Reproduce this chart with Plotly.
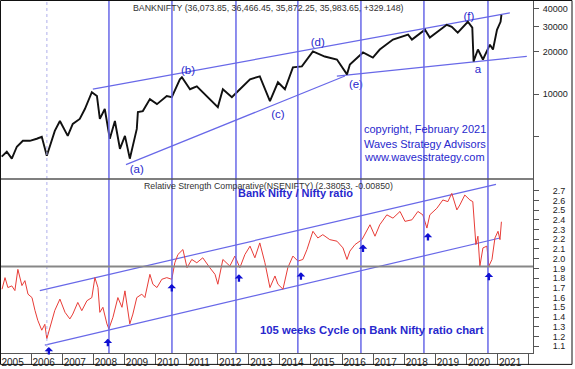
import math
import plotly.graph_objects as go

# ---------------- data ----------------
price_dates = ["2005-01-20","2005-03-21","2005-05-19","2005-07-17","2005-09-26","2005-12-17",
               "2006-03-08","2006-05-06","2006-07-04","2006-10-06","2006-12-05","2007-03-07",
               "2007-05-05","2007-07-26","2007-09-24","2007-12-15","2008-02-13","2008-03-18",
               "2008-05-15","2008-07-13","2008-09-11","2008-11-09","2009-01-07","2009-03-05",
               "2009-05-26","2009-06-08","2009-08-05","2009-10-27","2010-01-18","2010-05-13",
               "2010-07-11","2010-10-14","2010-11-07","2011-02-10","2011-05-01","2011-08-27",
               "2012-01-03","2012-03-02","2012-06-16","2012-09-18","2013-01-15","2013-05-10",
               "2013-09-06","2013-12-09","2014-03-01","2014-06-03","2014-09-16","2015-01-24",
               "2015-06-12","2015-11-02","2016-02-28","2016-04-02","2016-09-03","2016-12-28",
               "2017-03-19","2017-08-21","2018-02-15","2018-04-01","2018-09-01","2018-10-28",
               "2019-05-15","2019-07-13","2019-09-21","2020-01-18","2020-03-10","2020-03-25",
               "2020-05-15","2020-07-13","2020-10-03","2020-11-08","2020-12-25","2021-02-05",
               "2021-02-15"]
price_values = [3630, 3930, 3510, 4260, 4690, 4690,
                4850, 5000, 3680, 5510, 6470, 5080,
                6170, 6690, 7860, 10330, 9700, 6690,
                7860, 4850, 6470, 4120, 5080, 3510,
                5690, 7480, 7600, 9230, 8510, 9700,
                9530, 12730, 13150, 10840, 11370, 9700,
                8110, 10840, 9530, 10840, 12730, 13370,
                8930, 12130, 10840, 15450, 15700, 20000,
                18430, 17560, 13790, 16200, 19670, 18140,
                20640, 24260, 26300, 24260, 28460, 25050,
                30860, 29850, 27170, 32390, 29440, 17020,
                20640, 17560, 22330, 20640, 28460, 32390,
                36260]

ratio_dates = ["2005-01-24","2005-02-28","2005-04-03","2005-05-19","2005-06-24","2005-07-29",
               "2005-09-15","2005-10-20","2005-11-25","2006-01-11","2006-02-15","2006-03-20",
               "2006-05-06","2006-06-11","2006-07-04","2006-08-09","2006-10-06","2006-12-05",
               "2007-02-03","2007-04-01","2007-05-05","2007-07-03","2007-08-19","2007-10-18",
               "2007-12-15","2008-01-20","2008-02-25","2008-03-18","2008-04-23","2008-06-09",
               "2008-07-02","2008-08-19","2008-10-16","2008-12-03","2009-01-07","2009-03-05",
               "2009-04-10","2009-05-26","2009-07-24","2009-08-29","2009-10-27","2009-12-01",
               "2010-01-18","2010-03-16","2010-05-13","2010-07-11","2010-08-16","2010-09-21",
               "2010-11-19","2011-01-06","2011-03-03","2011-05-01","2011-07-10","2011-10-01",
               "2011-12-01","2012-01-03","2012-03-02","2012-05-23","2012-07-21","2012-09-18",
               "2012-11-16","2013-01-15","2013-03-13","2013-05-10","2013-07-09","2013-09-06",
               "2013-11-04","2013-12-09","2014-02-06","2014-04-04","2014-06-03","2014-08-01",
               "2014-09-28","2014-11-15","2015-01-24","2015-03-23","2015-05-20","2015-08-10",
               "2015-11-02","2016-01-12","2016-02-28","2016-04-02","2016-06-01","2016-08-22",
               "2016-10-19","2016-11-24","2017-01-22","2017-03-19","2017-06-10","2017-08-21",
               "2017-11-12","2018-01-09","2018-04-01","2018-06-10","2018-08-07","2018-09-24",
               "2018-10-28","2019-01-19","2019-03-30","2019-05-28","2019-07-13","2019-09-11",
               "2019-10-16","2019-12-13","2020-02-11","2020-03-16","2020-04-21","2020-05-15",
               "2020-06-07","2020-07-13","2020-08-28","2020-09-21","2020-10-27","2020-12-01",
               "2021-01-06","2021-01-29","2021-02-15"]
ratio_values = [1.686, 1.805, 1.703, 1.720, 1.672, 1.890,
                1.723, 1.774, 1.635, 1.600, 1.468, 1.366,
                1.264, 1.325, 1.176, 1.295, 1.468, 1.584,
                1.448, 1.380, 1.430, 1.550, 1.465, 1.567,
                1.600, 1.805, 1.703, 1.448, 1.500, 1.329,
                1.278, 1.397, 1.600, 1.500, 1.669, 1.329,
                1.430, 1.600, 1.635, 1.600, 1.839, 1.737,
                1.703, 1.788, 1.805, 1.788, 1.958, 2.043,
                2.094, 1.907, 1.992, 1.958, 2.009, 1.907,
                1.839, 1.737, 1.992, 1.924, 2.027, 1.907,
                2.043, 2.129, 2.009, 2.162, 1.958, 1.703,
                1.822, 1.737, 1.686, 1.907, 2.027, 1.975,
                1.992, 2.094, 2.282, 2.213, 2.247, 2.196,
                2.180, 2.111, 1.992, 2.078, 2.145, 2.196,
                2.282, 2.349, 2.231, 2.349, 2.451, 2.417,
                2.486, 2.384, 2.400, 2.486, 2.451, 2.315,
                2.451, 2.519, 2.604, 2.587, 2.672, 2.502,
                2.553, 2.655, 2.604, 2.587, 2.145, 2.231,
                1.924, 2.111, 2.129, 1.924, 1.992, 2.213,
                2.282, 2.196, 2.380]

cycle_dates = ["2008-07-03", "2010-07-13", "2012-08-03", "2014-07-31",
               "2016-08-10", "2018-08-20", "2020-09-10"]
dashed_cycle_date = "2006-07-05"

arrow_dates = ["2006-07-28", "2008-06-20", "2010-07-11", "2012-09-07",
               "2014-09-05", "2016-09-03", "2018-10-06", "2020-09-21"]
arrow_values = [1.091, 1.176, 1.739, 1.839, 1.861, 2.145, 2.264, 1.856]

wave_labels = ["(a)", "(b)", "(c)", "(d)", "(e)", "(f)", "a"]
wave_dates = ["2009-05-26", "2011-01-17", "2013-12-09", "2015-03-22",
              "2016-06-12", "2020-01-30", "2020-05-15"]
wave_values = [2895, 14480, 7130, 22740, 11560, 35100, 14720]

# trend lines (start, end)
price_trend_dates = [["2007-12-27", "2021-05-25"], ["2009-01-19", "2016-02-04"], ["2015-11-01", "2021-12-10"]]
price_trend_values = [[10840, 37450], [3188, 13430], [13400, 18500]]
ratio_trend_dates = [["2006-04-13", "2020-12-13"], ["2006-06-11", "2021-01-29"]]
ratio_trend_values = [[1.672, 2.764], [1.111, 2.213]]
ratio_ref_level = 1.92

price_ticks = [5000, 10000, 20000, 30000, 40000]
price_tick_text = ["", "10000", "20000", "30000", "40000"]
ratio_ticks = [1.1, 1.2, 1.3, 1.4, 1.5, 1.6, 1.7, 1.8, 1.9, 2.0, 2.1, 2.2, 2.3, 2.4, 2.5, 2.6, 2.7]
ratio_tick_text = ["1.1", "1.2", "1.3", "1.4", "1.5", "1.6", "1.7", "1.8", "1.9", "2.0",
                   "2.1", "2.2", "2.3", "2.4", "2.5", "2.6", "2.7"]

# ---------------- styling ----------------
W, H = 575, 369
ML, MR, MT, MB = 1, 42, 1, 13
PW, PH = W - ML - MR, H - MT - MB
FONT = "Arial, Liberation Sans, sans-serif"
LINE_BLUE = "rgb(104,104,232)"
TEXT_BLUE = "rgb(40,40,205)"
SPLIT = (H - MB - 180.5) / PH


def px(xp):
    return (xp - ML) / PW


def py(yp):
    return (H - MB - yp) / PH


fig = go.Figure()

# trend lines
for d, v in zip(price_trend_dates, price_trend_values):
    fig.add_trace(go.Scatter(x=d, y=v, mode="lines", xaxis="x2", yaxis="y2",
                             line=dict(color=LINE_BLUE, width=1.2), hoverinfo="skip"))
for d, v in zip(ratio_trend_dates, ratio_trend_values):
    fig.add_trace(go.Scatter(x=d, y=v, mode="lines", xaxis="x", yaxis="y",
                             line=dict(color=LINE_BLUE, width=1.2), hoverinfo="skip"))

# price
fig.add_trace(go.Scatter(x=price_dates, y=price_values, mode="lines", xaxis="x2", yaxis="y2",
                         line=dict(color="#111111", width=1.9)))
# ratio
fig.add_trace(go.Scatter(x=ratio_dates, y=ratio_values, mode="lines", xaxis="x", yaxis="y",
                         line=dict(color="rgb(232,60,55)", width=1)))

# wave labels
fig.add_trace(go.Scatter(x=wave_dates, y=wave_values, mode="text", text=wave_labels,
                         xaxis="x2", yaxis="y2", textposition="middle center",
                         textfont=dict(family=FONT, size=11.5, color=TEXT_BLUE)))

shapes = []
for d in cycle_dates:
    shapes.append(dict(type="line", xref="x", yref="paper", x0=d, x1=d, y0=0, y1=1,
                       line=dict(color=LINE_BLUE, width=1.5)))
shapes.append(dict(type="line", xref="x", yref="paper", x0=dashed_cycle_date, x1=dashed_cycle_date,
                   y0=0, y1=1, line=dict(color="rgb(175,175,235)", width=1, dash="dot")))
shapes.append(dict(type="line", xref="paper", yref="y", x0=0, x1=1,
                   y0=ratio_ref_level, y1=ratio_ref_level,
                   line=dict(color="rgb(135,135,135)", width=2)))
# panel divider
shapes.append(dict(type="line", xref="paper", yref="paper", x0=0, x1=1, y0=SPLIT, y1=SPLIT,
                   line=dict(color="#555555", width=1.5)))
# outer frame
shapes.append(dict(type="rect", xref="paper", yref="paper",
                   x0=px(0.5), x1=px(572), y0=py(367.5), y1=py(0.5),
                   line=dict(color="#111111", width=1)))

annotations = []
for d, v in zip(arrow_dates, arrow_values):
    annotations.append(dict(x=d, y=v, xref="x", yref="y", text="", showarrow=True,
                            ax=0, ay=9, arrowhead=1, arrowsize=0.62, arrowwidth=2.3,
                            arrowcolor="rgb(15,15,210)", standoff=0))

def txt(s, xp, yp, size, color, bold=False):
    annotations.append(dict(text=("<b>%s</b>" % s) if bold else s, x=px(xp), y=py(yp),
                            xref="paper", yref="paper", xanchor="left", yanchor="middle",
                            showarrow=False, borderpad=0,
                            font=dict(family=FONT, size=size, color=color)))

txt("BANKNIFTY (36,073.85, 36,466.45, 35,872.25, 35,983.65, +329.148)", 132, 8, 8.8, "#333333")
txt("Relative Strength Comparative(NSENIFTY) (2.38053, -0.00850)", 143, 188, 8.8, "#333333")
txt("Bank Nifty / Nifty ratio", 237, 195, 11, TEXT_BLUE, bold=True)
txt("105 weeks Cycle on Bank Nifty ratio chart", 259, 333, 11.3, TEXT_BLUE, bold=True)
txt("copyright, February 2021", 363, 130, 11, TEXT_BLUE)
txt("Waves Strategy Advisors", 363, 145, 11, TEXT_BLUE)
txt("www.wavesstrategy.com", 363, 158, 11, TEXT_BLUE)

x_range = ["2005-01-12", "2022-02-21"]

fig.update_layout(
    width=W, height=H,
    margin=dict(l=ML, r=MR, t=MT, b=MB, pad=0),
    paper_bgcolor="white", plot_bgcolor="white",
    showlegend=False,
    font=dict(family=FONT, size=9, color="#222222"),
    xaxis=dict(type="date", range=x_range, domain=[0, 1], anchor="y",
               tickformat="%Y", dtick="M12", tick0="2005-01-01", ticklabelmode="period",
               ticks="outside", ticklen=11, tickwidth=1, tickcolor="#555555",
               ticklabelstandoff=-11, ticklabelshift=-3, showgrid=False, zeroline=False,
               showline=True, linecolor="#555555", linewidth=1,
               tickfont=dict(family=FONT, size=10, color="#222222")),
    xaxis2=dict(type="date", range=x_range, domain=[0, 1], anchor="y2", matches="x",
                showticklabels=False, ticks="", showgrid=False, zeroline=False, showline=False),
    yaxis=dict(domain=[0, SPLIT], range=[1.0296, 2.820], side="right", anchor="x",
               tickvals=ratio_ticks, ticktext=ratio_tick_text, ticks="outside", ticklen=5,
               tickcolor="#555555", ticklabelstandoff=12,
               showgrid=False, zeroline=False, showline=True, linecolor="#555555", linewidth=1,
               tickfont=dict(family=FONT, size=9, color="#222222")),
    yaxis2=dict(domain=[SPLIT, 1], type="log", range=[3.402, 4.657], side="right", anchor="x2",
                tickvals=price_ticks, ticktext=price_tick_text, ticks="outside", ticklen=5,
                tickcolor="#555555", ticklabelstandoff=2,
                showgrid=False, zeroline=False, showline=True, linecolor="#555555", linewidth=1,
                tickfont=dict(family=FONT, size=9, color="#222222")),
    shapes=shapes,
    annotations=annotations,
)

fig.write_html("out.html", config={"displayModeBar": False},
               post_script="document.body.style.margin='0';")
